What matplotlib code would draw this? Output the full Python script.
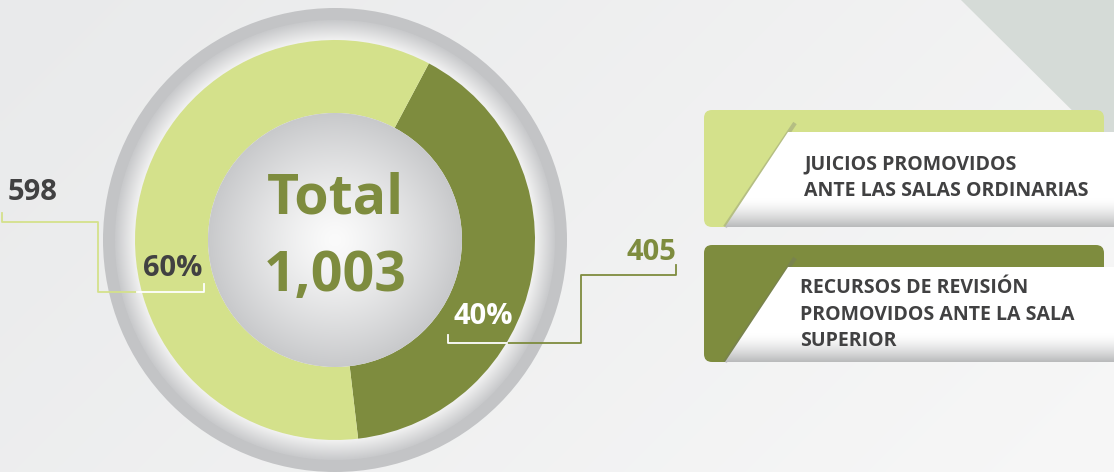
import numpy as np
import matplotlib.pyplot as plt
from matplotlib.patches import Circle, Polygon, FancyBboxPatch
from matplotlib.colors import to_rgb

# data
categories = ["JUICIOS PROMOVIDOS\nANTE LAS SALAS ORDINARIAS",
              "RECURSOS DE REVISIÓN\nPROMOVIDOS ANTE LA SALA\nSUPERIOR"]
values = [598, 405]
colors = ["#d4e18b", "#7e8c3e"]
total = sum(values)
percents = [round(v * 100 / total) for v in values]

W, H = 1114, 472
TXT = "#414142"
plt.rcParams['font.family'] = ['Open Sans', 'DejaVu Sans']


def Y(y):
    # pixel row (from top) -> data y
    return H - y


fig = plt.figure(figsize=(W / 100, H / 100), dpi=100)
ax = fig.add_axes([0, 0, 1, 1])


def gradient_img(extent, func, col0, col1, zorder, clip=None, n=300):
    yy, xx = np.mgrid[0:1:n * 1j, 0:1:n * 1j]
    t = np.clip(func(xx, yy), 0, 1)[..., None]
    img = np.array(to_rgb(col0)) * (1 - t) + np.array(to_rgb(col1)) * t
    im = ax.imshow(img, extent=extent, origin='lower', zorder=zorder,
                   interpolation='bilinear', aspect='auto')
    if clip is not None:
        im.set_clip_path(clip)
    return im


# background
gradient_img((0, W, 0, H), lambda x, y: x * 0.7 + (1 - y) * 0.3,
             "#e9eaeb", "#f7f7f7", 0)
tri = Polygon([(961, Y(0)), (W, Y(0)), (W, Y(152))], closed=True,
              facecolor="#d5dbd7", edgecolor='none', zorder=1)
ax.add_patch(tri)

# donut rings
cx, cy = 335, Y(240)
ax.add_patch(Circle((cx, cy), 232, facecolor="#c3c4c6", edgecolor='none', zorder=2))
band = Circle((cx, cy), 220, facecolor='none', edgecolor='none', zorder=3)
ax.add_patch(band)
gradient_img((cx - 220, cx + 220, cy - 220, cy + 220),
             lambda x, y: (np.hypot(x - 0.5, y - 0.5) * 2 - 200 / 220) / (20 / 220),
             "#f3f3f3", "#c9cacc", 3, clip=band)

wedges, _ = ax.pie(values[::-1], colors=colors[::-1], startangle=62,
                   counterclock=False, radius=200, center=(cx, cy),
                   wedgeprops=dict(width=73, edgecolor='none'), frame=True)
for w in wedges:
    w.set_zorder(4)

inner = Circle((cx, cy), 127, facecolor='none', edgecolor='none', zorder=5)
ax.add_patch(inner)
gradient_img((cx - 127, cx + 127, cy - 127, cy + 127),
             lambda x, y: (np.hypot(x - 0.5, y - 0.5) * 2) ** 1.3,
             "#fbfbfb", "#c8c9cb", 5, clip=inner)

ax.text(cx, Y(199), "Total", ha='center', va='center', fontsize=40,
        fontweight='bold', color="#7e8c3e", zorder=6)
ax.text(cx, Y(277), f"{total:,}", ha='center', va='center', fontsize=40,
        fontweight='bold', color="#7e8c3e", zorder=6)

# leader lines and labels
lw = 1.3
ax.plot([2, 2, 98, 98, 137], [Y(213), Y(222), Y(222), Y(292), Y(292)],
        color=colors[0], lw=lw, zorder=7)
ax.plot([137, 204, 204], [Y(292), Y(292), Y(284)], color='white', lw=lw, zorder=7)
ax.text(8, Y(193), f"{values[0]}", ha='left', va='center', fontsize=21,
        fontweight='bold', color=TXT, zorder=7)
ax.text(173, Y(269), f"{percents[0]}%", ha='center', va='center', fontsize=21,
        fontweight='bold', color=TXT, zorder=7)

ax.plot([676, 676, 581, 581, 507], [Y(265), Y(275), Y(275), Y(343), Y(343)],
        color=colors[1], lw=lw, zorder=7)
ax.plot([507, 448, 448], [Y(343), Y(343), Y(335)], color='white', lw=lw, zorder=7)
ax.text(676, Y(253), f"{values[1]}", ha='right', va='center', fontsize=21,
        fontweight='bold', color=colors[1], zorder=7)
ax.text(483, Y(316), f"{percents[1]}%", ha='center', va='center', fontsize=21,
        fontweight='bold', color='white', zorder=7)

# legend boxes
for i, (cat, col) in enumerate(zip(categories, colors)):
    top = 110 + 135 * i
    bot = top + 117
    box = FancyBboxPatch((704 + 8, Y(bot) + 8), 1104 - 704 - 16, bot - top - 16,
                         boxstyle="round,pad=8", facecolor=col,
                         edgecolor='none', zorder=8)
    ax.add_patch(box)
    wtop = top + 22
    wpoly = Polygon([(788, Y(wtop)), (W, Y(wtop)), (W, Y(bot)), (725, Y(bot))],
                    closed=True, facecolor='none', edgecolor='none', zorder=9)
    ax.add_patch(wpoly)
    gradient_img((700, W, Y(bot), Y(wtop)),
                 lambda x, y: np.clip((0.3 - y) / 0.3, 0, 1) ** 1.5,
                 "#ffffff", "#b9babb", 9, clip=wpoly)
    ax.plot([795, 725], [Y(top + 13), Y(bot)], color="#6f7071", lw=3,
            alpha=0.3, zorder=8.5, solid_capstyle='butt')
    n_lines = cat.count("\n") + 1
    ty = 162 if n_lines == 2 else 286
    tx = 804 if i == 0 else 800
    ax.text(tx, Y(ty - 8), cat, ha='left', va='top', fontsize=14,
            fontweight='bold', color=TXT, linespacing=1.45, zorder=10)

ax.set_xlim(0, W)
ax.set_ylim(0, H)
ax.set_aspect('auto')
ax.axis('off')
fig.savefig("out.png", dpi=100)
